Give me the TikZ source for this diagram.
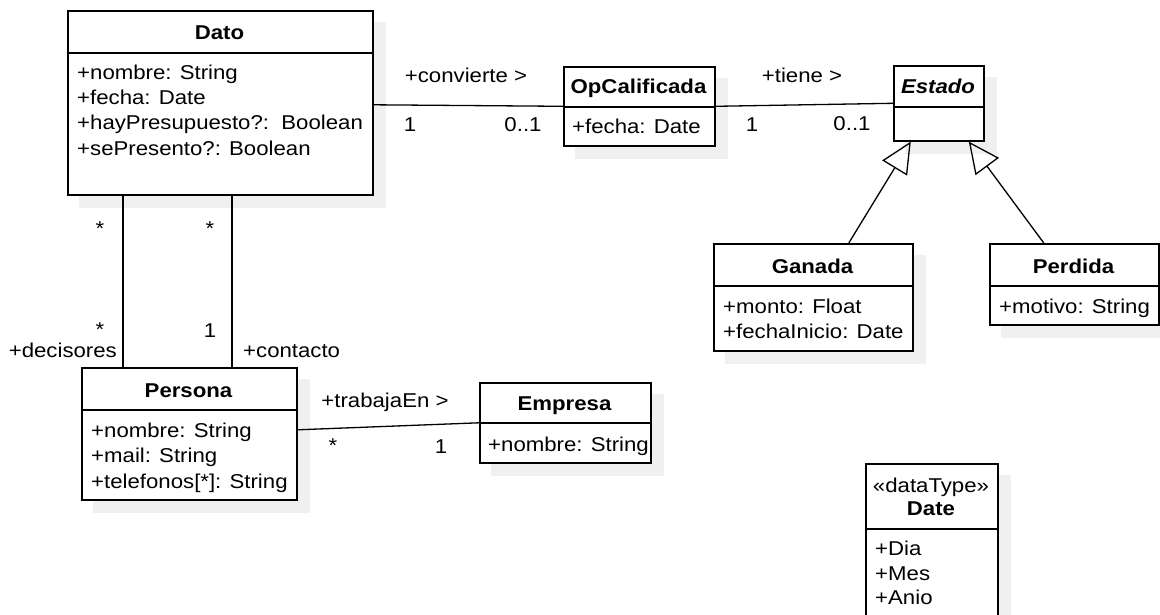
\documentclass[tikz,border=0pt]{standalone}
\usepackage{fontspec}
\setmainfont{Liberation Sans}[FakeStretch=1.11]
\usetikzlibrary{arrows.meta,backgrounds}
\begin{document}
\begin{tikzpicture}[x=1pt,y=-1pt, font=\fontsize{20}{25}\selectfont,
  cls/.style={draw, line width=1.6pt, fill=white, inner sep=0, anchor=north west},
  divider/.style={line width=1.6pt},
  shadowfill/.style={fill=black!6, draw=none},
  txt/.style={inner sep=0, anchor=base west},
  ctr/.style={inner sep=0, anchor=base},
  rgt/.style={inner sep=0, anchor=base east},
  assoc/.style={line width=1.3pt},
  gen/.style={line width=1.3pt, -{Triangle[open, length=31pt, width=29pt, line width=1.3pt]}}
]
\useasboundingbox (0,0) rectangle (1160,615);
\clip (0,0) rectangle (1160,615);

% classes
\node[cls, minimum width=305pt, minimum height=184pt] (dato) at (67,10) {};
\node[cls, minimum width=151pt, minimum height=79pt] (opcal) at (563,66) {};
\node[cls, minimum width=90pt, minimum height=75pt] (estado) at (893,65) {};
\node[cls, minimum width=199pt, minimum height=107pt] (ganada) at (713,243) {};
\node[cls, minimum width=169pt, minimum height=81pt] (perdida) at (989,243) {};
\node[cls, minimum width=215pt, minimum height=132pt] (persona) at (81,367) {};
\node[cls, minimum width=171pt, minimum height=80pt] (empresa) at (479,382) {};
\node[cls, minimum width=132pt, minimum height=190pt] (date) at (865,463) {};

% shadows
\begin{scope}[on background layer]
  \fill[white] (0,0) rectangle (1160,615);
  \foreach \n in {dato,opcal,estado,ganada,perdida,persona,empresa,date}{
    \fill[shadowfill] ([shift={(12,12)}]\n.north west) rectangle ([shift={(12,12)}]\n.south east);
  }
\end{scope}

% dividers
\draw[divider] (dato.west |- 0,53) -- (dato.east |- 0,53);
\draw[divider] (opcal.west |- 0,107) -- (opcal.east |- 0,107);
\draw[divider] (estado.west |- 0,107) -- (estado.east |- 0,107);
\draw[divider] (ganada.west |- 0,286) -- (ganada.east |- 0,286);
\draw[divider] (perdida.west |- 0,286) -- (perdida.east |- 0,286);
\draw[divider] (persona.west |- 0,410) -- (persona.east |- 0,410);
\draw[divider] (empresa.west |- 0,423) -- (empresa.east |- 0,423);
\draw[divider] (date.west |- 0,529) -- (date.east |- 0,529);

% connectors
\draw[assoc] ([yshift=-2pt]dato.east) -- (opcal.west);
\draw[assoc] (opcal.east) -- (estado.west);
\draw[assoc] ([xshift=56pt]dato.south west) -- ([xshift=42pt]persona.north west);
\draw[assoc] ([xshift=165pt]dato.south west) -- ([xshift=151pt]persona.north west);
\draw[assoc] ([yshift=4pt]persona.east) -- (empresa.west);
\draw[gen] ([xshift=35.5pt]ganada.north) -- ([xshift=-28pt]estado.south);
\draw[gen] ([xshift=-30.5pt]perdida.north) -- ([xshift=30pt]estado.south);

% Dato
\node[ctr] (datoT) at (219.5,39.5) {\bfseries Dato};
\node[txt] (datoA1) at (77,80) {+nombre: String};
\node[txt] (datoA2) at (77,105) {+fecha: Date};
\node[txt] (datoA3) at (77,130) {+hayPresupuesto?:~~Boolean};
\node[txt] (datoA4) at (77,155.5) {+sePresento?: Boolean};

% OpCalificada
\node[ctr] (opcalT) at (638.5,94) {\bfseries OpCalificada};
\node[txt] (opcalA1) at (572,134) {+fecha: Date};

% Estado
\node[ctr] (estadoT) at (938,94) {\bfseries\itshape Estado};

% association labels
\node[ctr] (convL) at (466,83) {+convierte >};
\node[ctr] (convM1) at (410,132) {1};
\node[ctr] (convM2) at (523,132) {0..1};
\node[ctr] (tieneL) at (802,83) {+tiene >};
\node[ctr] (tieneM1) at (752,132) {1};
\node[ctr] (tieneM2) at (852,131) {0..1};

% Persona
\node[ctr] (personaT) at (188.5,397) {\bfseries Persona};
\node[txt] (personaA1) at (91,437) {+nombre: String};
\node[txt] (personaA2) at (91,462.5) {+mail: String};
\node[txt] (personaA3) at (91,488) {+telefonos[*]: String};

\node[rgt] (decL) at (117,357) {+decisores};
\node[txt] (conL) at (243,357) {+contacto};
\node[ctr] (decM1) at (100,236) {*};
\node[ctr] (conM1) at (210,236) {*};
\node[ctr] (decM2) at (100,336) {*};
\node[ctr] (conM2) at (210,337) {1};

% Empresa
\node[ctr] (empresaT) at (564.5,410) {\bfseries Empresa};
\node[txt] (empresaA1) at (488,451) {+nombre: String};
\node[ctr] (trabL) at (385,407) {+trabajaEn >};
\node[ctr] (trabM1) at (333,452) {*};
\node[ctr] (trabM2) at (441,453) {1};

% Ganada / Perdida
\node[ctr] (ganadaT) at (812.5,273) {\bfseries Ganada};
\node[txt] (ganadaA1) at (723,313) {+monto: Float};
\node[txt] (ganadaA2) at (723,338) {+fechaInicio: Date};
\node[ctr] (perdidaT) at (1073.5,273) {\bfseries Perdida};
\node[txt] (perdidaA1) at (999,313) {+motivo: String};

% Date
\node[ctr] (dateS) at (931,492) {«dataType»};
\node[ctr] (dateT) at (931,515) {\bfseries Date};
\node[txt] (dateA1) at (875,555) {+Dia};
\node[txt] (dateA2) at (875,580) {+Mes};
\node[txt] (dateA3) at (875,604) {+Anio};
\end{tikzpicture}
\end{document}
